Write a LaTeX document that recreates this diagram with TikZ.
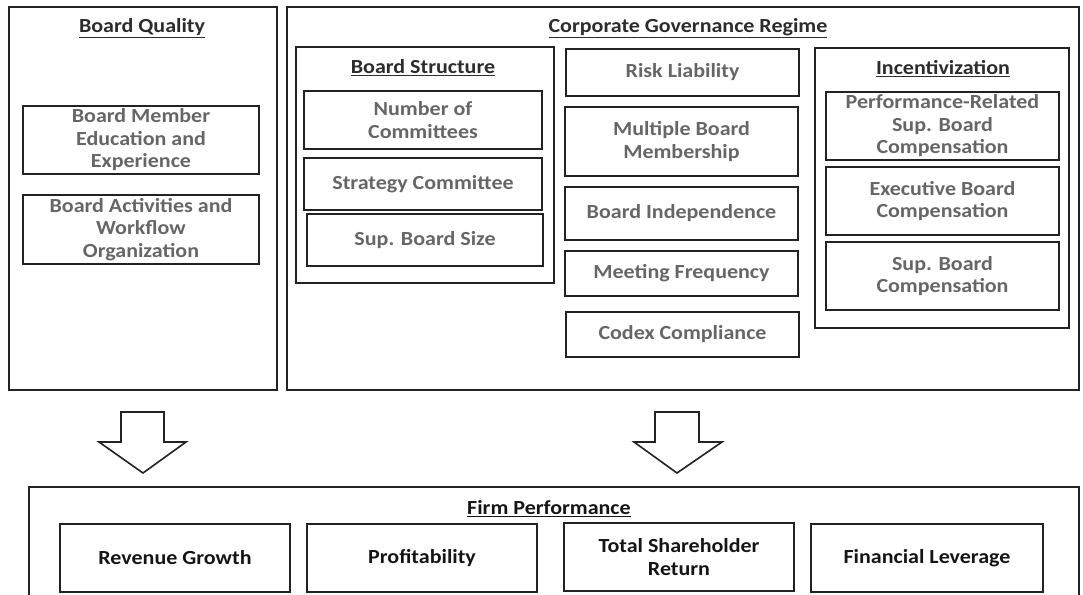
\documentclass[tikz,border=0pt]{standalone}
\usepackage{fontspec}
\setmainfont{Carlito}[FakeStretch=1.1]
\definecolor{boxline}{HTML}{222222}
\definecolor{itemtext}{HTML}{666666}
\definecolor{headtext}{HTML}{2C2C2C}
\definecolor{perftext}{HTML}{151515}
\tikzset{
  panel/.style={draw=boxline, line width=2pt, inner sep=0pt},
  item/.style={draw=boxline, line width=2.2pt, inner sep=0pt, align=center,
    text=itemtext, font=\bfseries\fontsize{20}{22.5}\selectfont},
  perf/.style={item, text=perftext},
  heading/.style={text=headtext, inner sep=0pt, font=\bfseries\fontsize{20}{22.5}\selectfont},
  blockarrow/.style={draw=boxline, line width=1.6pt, fill=white, line join=miter},
}
\begin{document}
\begin{tikzpicture}[x=1pt,y=-1pt]
\useasboundingbox (0,0) rectangle (1083,594);
\clip (0,0) rectangle (1083,594);

% Board quality panel
\node[panel, minimum width=268pt, minimum height=383pt] (bq) at (143,198.5) {};
\node[heading] (bqhead) at (142,28) {\underline{Board Quality}};
\node[item, minimum width=236pt, minimum height=68pt] (bme) at (141,140)
  {Board Member\\Education and\\Experience};
\node[item, minimum width=236pt, minimum height=69pt] (baw) at (141,229.5)
  {Board Activities and\\Workflow\\Organization};

% Corporate governance regime panel
\node[panel, minimum width=792pt, minimum height=383pt] (cgr) at (683,198.5) {};
\node[heading] (cgrhead) at (688,28) {\underline{Corporate Governance Regime}};

% Board structure group
\node[panel, minimum width=258pt, minimum height=236pt] (bs) at (425,165) {};
\node[heading] (bshead) at (423,68) {\underline{Board Structure}};
\node[item, minimum width=238pt, minimum height=58pt] (noc) at (423,120) {Number of\\Committees};
\node[item, minimum width=238pt, minimum height=52pt] (sc) at (423,184) {Strategy Committee};
\node[item, minimum width=236pt, minimum height=52pt] (sbs) at (425,240) {Sup. Board Size};

% Middle column
\node[item, minimum width=233pt, minimum height=47pt] (rl) at (682.5,72.5) {Risk Liability};
\node[item, minimum width=233pt, minimum height=69pt] (mbm) at (681.5,141.5) {Multiple Board\\Membership};
\node[item, minimum width=233pt, minimum height=53pt] (bi) at (681.5,213.5) {Board Independence};
\node[item, minimum width=233pt, minimum height=45pt] (mf) at (681.5,273.5) {Meeting Frequency};
\node[item, minimum width=233pt, minimum height=45pt] (cc) at (682.5,334.5) {Codex Compliance};

% Incentivization group
\node[panel, minimum width=254pt, minimum height=280pt] (inc) at (942,188) {};
\node[heading] (inchead) at (943,69) {\underline{Incentivization}};
\node[item, minimum width=233pt, minimum height=68pt] (prc) at (942.5,126)
  {Performance-Related\\Sup. Board\\Compensation};
\node[item, minimum width=233pt, minimum height=68pt] (ebc) at (942.5,201)
  {Executive Board\\Compensation};
\node[item, minimum width=233pt, minimum height=68pt] (sbc) at (942.5,276)
  {Sup. Board\\Compensation};

% Block arrows towards firm performance
\coordinate (qtip) at (143,473);
\coordinate (gtip) at (677,473);
\draw[blockarrow] (qtip) -- ++(43,-31) -- ++(-22,0) -- ++(0,-30) -- ++(-43,0)
  -- ++(0,30) -- ++(-22,0) -- cycle;
\draw[blockarrow] (gtip) -- ++(45,-31) -- ++(-23,0) -- ++(0,-30) -- ++(-44,0)
  -- ++(0,30) -- ++(-21,0) -- cycle;

% Firm performance panel
\node[panel, minimum width=1050pt, minimum height=153pt] (fp) at (554,563.5) {};
\node[heading, text=perftext] (fphead) at (549,509) {\underline{Firm Performance}};
\node[perf, minimum width=230pt, minimum height=68pt] (rg) at (175,558) {Revenue Growth};
\node[perf, minimum width=230pt, minimum height=68pt] (pr) at (422,558) {Profitability};
\node[perf, minimum width=230pt, minimum height=68pt] (tsr) at (679,557) {Total Shareholder\\Return};
\node[perf, minimum width=232pt, minimum height=68pt] (fl) at (927,558) {Financial Leverage};
\end{tikzpicture}
\end{document}
